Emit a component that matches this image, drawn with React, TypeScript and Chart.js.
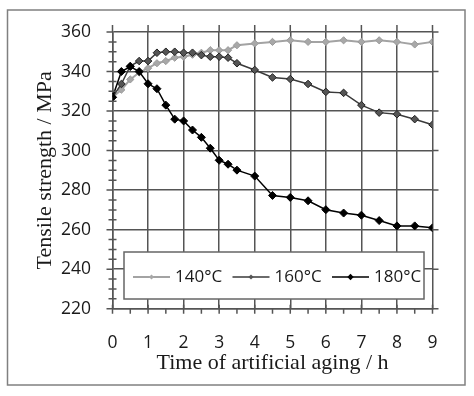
import React, { useEffect, useRef } from "react";
import { Chart, registerables } from "chart.js";
Chart.register(...registerables);

const times = [0, 0.25, 0.5, 0.75, 1, 1.25, 1.5, 1.75, 2, 2.25, 2.5, 2.75, 3, 3.25, 3.5, 4, 4.5, 5, 5.5, 6, 6.5, 7, 7.5, 8, 8.5, 9];
const s140 = [327, 330.8, 336, 339.5, 341.7, 344.2, 345.3, 347, 347.5, 348.5, 349.5, 350.8, 350.8, 350.8, 353.3, 354.2, 355, 355.8, 355, 355, 355.8, 355, 355.8, 355, 353.7, 355];
const s160 = [327, 333.7, 342.8, 345.3, 345.3, 349.5, 350, 350, 349.5, 349.5, 348.3, 347.5, 347.5, 347, 344.2, 340.8, 337, 336.2, 333.7, 329.7, 329.2, 323, 319.2, 318.4, 315.9, 313.1];
const s180 = [327, 340, 342.5, 340, 333.8, 331.3, 323, 315.9, 315, 310.4, 306.7, 301.2, 295.1, 293.1, 290.1, 287.1, 277.3, 276.3, 274.6, 270.1, 268.4, 267.3, 264.6, 261.9, 261.9, 260.9];
const seriesLabels = ["140°C", "160°C", "180°C"];
const xTicksMajor = [0, 1, 2, 3, 4, 5, 6, 7, 8, 9];
const yMin = 220;
const yMax = 360;

const SANS = '"Open Sans", "Liberation Sans", sans-serif';
const SERIF = '"Liberation Serif", "Times New Roman", serif';
const GRID = "#555555";
const TEXT = "#1a1a1a";

const framePlugin = {
  id: "frame",
  beforeDraw(chart: any) {
    const ctx = chart.ctx;
    ctx.save();
    ctx.fillStyle = "#ffffff";
    ctx.fillRect(0, 0, chart.width, chart.height);
    ctx.strokeStyle = "#808080";
    ctx.lineWidth = 1.5;
    ctx.strokeRect(7.5, 10, 457.5, 375);
    ctx.restore();
  },
};

const ticksPlugin = {
  id: "ticksExtra",
  afterDatasetsDraw(chart: any) {
    const ctx = chart.ctx;
    const { left, right, top, bottom } = chart.chartArea;
    const xs = chart.scales.x;
    const ys = chart.scales.y;
    ctx.save();
    ctx.strokeStyle = GRID;
    ctx.lineWidth = 1.5;
    ctx.beginPath();
    for (const v of xTicksMajor) {
      const px = xs.getPixelForValue(v);
      ctx.moveTo(px, top - 7);
      ctx.lineTo(px, top);
      ctx.moveTo(px, bottom - 4);
      ctx.lineTo(px, bottom + 5);
      if (v < 9) {
        const pm = xs.getPixelForValue(v + 0.5);
        ctx.moveTo(pm, bottom);
        ctx.lineTo(pm, bottom + 5);
      }
    }
    for (let v = yMin; v <= yMax; v += 5) {
      const py = ys.getPixelForValue(v);
      if (v % 20 === 0) {
        ctx.moveTo(left - 6, py);
        ctx.lineTo(left, py);
        ctx.moveTo(right, py);
        ctx.lineTo(right + 6, py);
      } else {
        ctx.moveTo(left - 4, py);
        ctx.lineTo(left + 4, py);
      }
    }
    ctx.stroke();
    ctx.restore();
  },
};

const legendPlugin = {
  id: "boxLegend",
  afterDatasetsDraw(chart: any) {
    const ctx = chart.ctx;
    const { left, top } = chart.chartArea;
    const bx = left + 11.5;
    const by = top + 220;
    const bw = 300;
    const bh = 47;
    ctx.save();
    ctx.fillStyle = "#ffffff";
    ctx.fillRect(bx, by, bw, bh);
    ctx.strokeStyle = "#666666";
    ctx.lineWidth = 1.5;
    ctx.strokeRect(bx, by, bw, bh);
    const cy = by + 25;
    chart.data.datasets.forEach((ds: any, i: number) => {
      const x0 = bx + 9 + i * 99.5;
      ctx.strokeStyle = ds.borderColor;
      ctx.lineWidth = ds.borderWidth;
      ctx.beginPath();
      ctx.moveTo(x0, cy);
      ctx.lineTo(x0 + 37, cy);
      ctx.stroke();
      const mx = x0 + 18.5;
      const r = i === 2 ? 3.2 : 2.6;
      ctx.fillStyle = ds.backgroundColor;
      ctx.beginPath();
      ctx.moveTo(mx, cy - r);
      ctx.lineTo(mx + r, cy);
      ctx.lineTo(mx, cy + r);
      ctx.lineTo(mx - r, cy);
      ctx.closePath();
      ctx.fill();
      ctx.fillStyle = TEXT;
      ctx.font = `17px ${SANS}`;
      ctx.textAlign = "left";
      ctx.textBaseline = "middle";
      ctx.fillText(ds.label, x0 + 42, cy);
    });
    ctx.restore();
  },
};

export default function App() {
  const ref = useRef<HTMLCanvasElement | null>(null);
  useEffect(() => {
    if (!ref.current) return;
    const mk = (ys: number[]) => times.map((t, i) => ({ x: t, y: ys[i] }));
    const chart = new Chart(ref.current, {
      type: "line",
      data: {
        datasets: [
          {
            label: seriesLabels[0],
            data: mk(s140),
            borderColor: "#a3a3a3",
            backgroundColor: "#a8a8a8",
            pointBorderColor: "#9a9a9a",
            borderWidth: 2,
            pointStyle: "rectRot",
            pointRadius: 3.6,
            pointBorderWidth: 1,
            order: 3,
          },
          {
            label: seriesLabels[1],
            data: mk(s160),
            borderColor: "#3a3a3a",
            backgroundColor: "#555555",
            pointBorderColor: "#222222",
            borderWidth: 1.5,
            pointStyle: "rectRot",
            pointRadius: 3.8,
            pointBorderWidth: 1,
            order: 2,
          },
          {
            label: seriesLabels[2],
            data: mk(s180),
            borderColor: "#000000",
            backgroundColor: "#000000",
            pointBorderColor: "#000000",
            borderWidth: 1.5,
            pointStyle: "rectRot",
            pointRadius: 4,
            pointBorderWidth: 1,
            order: 1,
          },
        ],
      },
      options: {
        animation: false,
        responsive: false,
        layout: { padding: { top: 28.3, right: 41.5, left: 0, bottom: 0 } },
        plugins: { legend: { display: false }, tooltip: { enabled: false } },
        scales: {
          x: {
            type: "linear",
            min: 0,
            max: 9,
            ticks: { stepSize: 1, font: { family: SANS, size: 17.5 }, color: TEXT, padding: 24 },
            grid: { color: GRID, lineWidth: 1.5, drawTicks: false },
            border: { color: GRID, width: 1.5 },
            title: {
              display: true,
              text: "Time of artificial aging / h",
              font: { family: SERIF, size: 22 },
              color: TEXT,
              padding: { top: 0, bottom: 19.8 },
            },
            afterFit(s: any) {
              s.height = 87.3;
            },
          },
          y: {
            min: yMin,
            max: yMax,
            ticks: { stepSize: 20, font: { family: SANS, size: 17.5 }, color: TEXT, padding: 21.5 },
            grid: { color: GRID, lineWidth: 1.5, drawTicks: false },
            border: { color: GRID, width: 1.5 },
            title: {
              display: true,
              text: "Tensile strength / MPa",
              font: { family: SERIF, size: 22 },
              color: TEXT,
              padding: { top: 31.8, bottom: 0 },
            },
            afterFit(s: any) {
              s.width = 112.5;
            },
          },
        },
      },
      plugins: [framePlugin, ticksPlugin, legendPlugin],
    } as any);
    return () => chart.destroy();
  }, []);
  return (
    <div style={{ position: "absolute", left: 0, top: 0, width: 474, height: 396 }}>
      <canvas ref={ref} width={474} height={396} style={{ display: "block" }} />
    </div>
  );
}
